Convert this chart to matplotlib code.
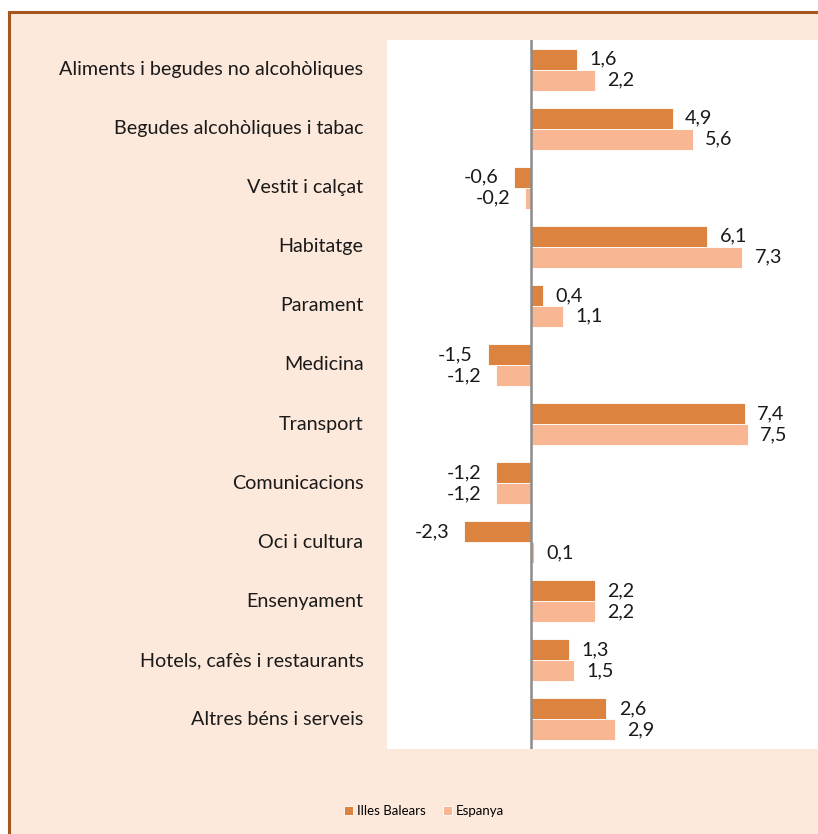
import matplotlib
matplotlib.use("Agg")
import matplotlib.pyplot as plt
import numpy as np
from matplotlib.patches import Rectangle

categories = [
    "Aliments i begudes no alcohòliques",
    "Begudes alcohòliques i tabac",
    "Vestit i calçat",
    "Habitatge",
    "Parament",
    "Medicina",
    "Transport",
    "Comunicacions",
    "Oci i cultura",
    "Ensenyament",
    "Hotels, cafès i restaurants",
    "Altres béns i serveis",
]
balears = [1.6, 4.9, -0.6, 6.1, 0.4, -1.5, 7.4, -1.2, -2.3, 2.2, 1.3, 2.6]
espanya = [2.2, 5.6, -0.2, 7.3, 1.1, -1.2, 7.5, -1.2, 0.1, 2.2, 1.5, 2.9]

c_bal = "#DC843F"
c_esp = "#F9B692"
bg = "#FDE9DB"
font = "Lato"

W, H = 818, 834
fig = plt.figure(figsize=(W / 100, H / 100), dpi=100)
fig.patch.set_facecolor("white")

# peach chart area with brown border (cropped on right/bottom)
fig.patches.append(Rectangle((9 / W, -0.1), 1.2, 1.1 - 12 / H, transform=fig.transFigure,
                             facecolor=bg, edgecolor="#A5561F", linewidth=2.2, zorder=-5))

ax = fig.add_axes([387 / W, 85 / H, 1 - 387 / W, (749 - 40) / H])
ax.set_facecolor("white")

n = len(categories)
y = np.arange(n)
h = 0.355
ax.barh(y - h / 2, balears, height=h, color=c_bal, edgecolor="white", linewidth=0.6, label="Illes Balears")
ax.barh(y + h / 2, espanya, height=h, color=c_esp, edgecolor="white", linewidth=0.6, label="Espanya")

ax.set_xlim(-4.98, 9.93)
ax.set_ylim(n - 0.5, -0.5)
ax.axvline(0, color="#8C8C8C", linewidth=1.8)

for s in ax.spines.values():
    s.set_visible(False)
ax.set_xticks([])
ax.set_yticks([])

for i, cat in enumerate(categories):
    ax.annotate(cat, xy=(0, i), xycoords=("axes fraction", "data"), xytext=(-17, 0),
                textcoords="offset points", ha="right", va="center",
                fontsize=14.2, family=font, color="#1a1a1a")

def fmt(v):
    return f"{v:.1f}".replace(".", ",")

for vals, off in ((balears, -h / 2), (espanya, h / 2)):
    for i, v in enumerate(vals):
        dx = 9 if v >= 0 else -11
        ax.annotate(fmt(v), xy=(v, i + off), xytext=(dx, 0), textcoords="offset points",
                    ha="left" if v >= 0 else "right", va="center",
                    fontsize=14.2, family=font, color="#1a1a1a")

fig.legend(loc="center", bbox_to_anchor=(424 / W, 1 - 811 / H), ncol=2, frameon=False,
           handlelength=0.7, handleheight=0.7, handletextpad=0.3,
           columnspacing=1.3, prop={"family": font, "size": 9.5})

fig.savefig("out.png", dpi=100, facecolor=fig.get_facecolor())
